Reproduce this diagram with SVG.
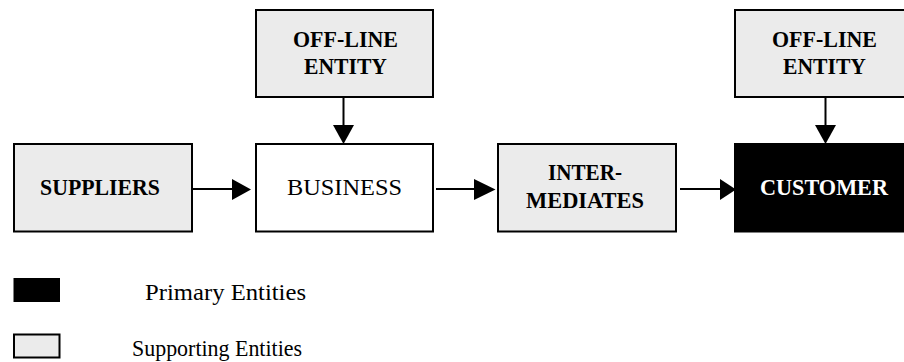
<svg xmlns="http://www.w3.org/2000/svg" width="904" height="362" viewBox="0 0 904 362">
<style>
.box{stroke:#000;stroke-width:2}
.sup{fill:#ebebeb}
.wht{fill:#fff}
.blk{fill:#000}
.t{font-family:"Liberation Serif","Times New Roman",serif;font-size:23px;text-anchor:middle;fill:#000}
.b{font-weight:bold}
.w{fill:#fff}
.line{stroke:#000;stroke-width:2;fill:none}
.head{fill:#000}
.leg{font-family:"Liberation Serif","Times New Roman",serif;font-size:24px;fill:#000}
</style>
<rect width="904" height="362" fill="#fff"/>
<g id="offline1">
<rect class="box sup" x="256" y="10" width="177" height="87"/>
<text class="t b" x="345.5" y="46.5" textLength="105" lengthAdjust="spacingAndGlyphs">OFF-LINE</text>
<text class="t b" x="345.5" y="74" textLength="83" lengthAdjust="spacingAndGlyphs">ENTITY</text>
</g>
<g id="offline2">
<rect class="box sup" x="735" y="10" width="178" height="87"/>
<text class="t b" x="824.5" y="46.5" textLength="105" lengthAdjust="spacingAndGlyphs">OFF-LINE</text>
<text class="t b" x="824.5" y="74" textLength="83" lengthAdjust="spacingAndGlyphs">ENTITY</text>
</g>
<g id="suppliers">
<rect class="box sup" x="14" y="144" width="178" height="87.5"/>
<text class="t b" x="100" y="195" textLength="120" lengthAdjust="spacingAndGlyphs">SUPPLIERS</text>
</g>
<g id="business">
<rect class="box wht" x="256" y="144" width="177" height="87.5"/>
<text class="t" x="344.5" y="195" font-size="25" textLength="115" lengthAdjust="spacingAndGlyphs">BUSINESS</text>
</g>
<g id="intermediates">
<rect class="box sup" x="498" y="144" width="178" height="87.5"/>
<text class="t b" x="585" y="180" textLength="74" lengthAdjust="spacingAndGlyphs">INTER-</text>
<text class="t b" x="585" y="208" textLength="118" lengthAdjust="spacingAndGlyphs">MEDIATES</text>
</g>
<g id="customer">
<rect class="box blk" x="735" y="144" width="178" height="87.5"/>
<text class="t b w" x="824" y="195" textLength="128" lengthAdjust="spacingAndGlyphs">CUSTOMER</text>
</g>
<g id="connectors">
<line class="line" x1="343.5" y1="97" x2="343.5" y2="126"/>
<polygon class="head" points="333,125 354,125 343.5,144"/>
<line class="line" x1="825.5" y1="97" x2="825.5" y2="126"/>
<polygon class="head" points="815,125 836,125 825.5,144"/>
<line class="line" x1="192" y1="189" x2="233" y2="189"/>
<polygon class="head" points="232,179 232,200 251,189.5"/>
<line class="line" x1="436" y1="189" x2="475" y2="189"/>
<polygon class="head" points="474,179 474,200 495.5,189.5"/>
<line class="line" x1="680" y1="189" x2="721" y2="189"/>
<polygon class="head" points="720,179 720,200 736,189.5"/>
</g>
<g id="legend">
<rect x="13.5" y="278" width="46.5" height="24" fill="#000"/>
<text class="leg" x="145" y="300" textLength="161" lengthAdjust="spacingAndGlyphs">Primary Entities</text>
<rect class="box sup" x="14" y="334.5" width="45.5" height="23"/>
<text class="leg" x="132" y="355.5" textLength="170" lengthAdjust="spacingAndGlyphs">Supporting Entities</text>
</g>
</svg>
